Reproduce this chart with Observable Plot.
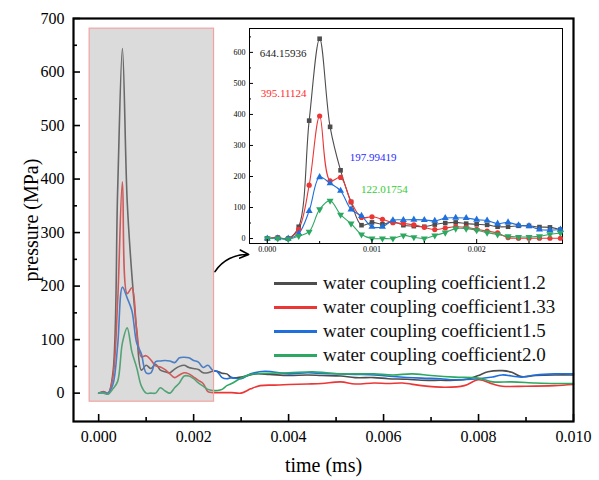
<!DOCTYPE html>
<html>
<head>
<meta charset="utf-8">
<script src="https://cdn.jsdelivr.net/npm/d3@7"></script>
<script src="https://cdn.jsdelivr.net/npm/@observablehq/plot@0.6"></script>
<style>
  body { margin: 0; background: #fff; }
  #wrap { position: relative; width: 599px; height: 480px; font-family: 'Liberation Serif', 'Times New Roman', Times, 'DejaVu Serif', serif; }
  #inset { position: absolute; left: 222px; top: 18px; }
  #legend { position: absolute; left: 274px; top: 271px; font-size: 19px; color: #111; }
  #legend .row { display: flex; align-items: center; height: 24px; white-space: nowrap; }
  #legend .sw { width: 43px; height: 3px; margin-right: 6px; }
  svg text { font-family: 'Liberation Serif', 'Times New Roman', Times, 'DejaVu Serif', serif; }
</style>
</head>
<body>
<div id="wrap"></div>
<script>
// ---- data ----
const seriesNames = ["water coupling coefficient1.2", "water coupling coefficient1.33", "water coupling coefficient1.5", "water coupling coefficient2.0"];
const seriesColors = ["#4d4d4d", "#ec3636", "#1f6fdc", "#2ca862"];
const labelColors = ["#222222", "#ff2a2a", "#2a2aff", "#33cc33"];
const peakLabels = ["644.15936", "395.11124", "197.99419", "122.01754"];
const markerSymbols = ["square", "circle", "triangle", "triangle"];
const markerRotate = [0, 0, 0, 180];

// sampled times (ms) of the zoomed-in part
const tInset = [0, 0.0001, 0.0002, 0.0003, 0.0004, 0.0005, 0.0006, 0.0007, 0.0008, 0.0009,
  0.0010, 0.0011, 0.0012, 0.0013, 0.0014, 0.0015, 0.0016, 0.0017, 0.0018, 0.0019,
  0.0020, 0.0021, 0.0022, 0.0023, 0.0024, 0.0025, 0.0026, 0.0027, 0.0028];
const blackInset = [0, 3, 0, 38, 380, 644, 360, 220, 118, 43, 52, 46, 54, 43, 40, 38, 45, 50, 52, 48, 46, 44, 38, 38, 41, 41, 37, 36, 29];
const redInset   = [0, 2, 0, 30, 172, 395, 186, 197, 118, 68, 70, 62, 51, 49, 44, 36, 29, 34, 38, 36, 30, 24, 18, 3, 1, 1, 1, 1, 1];
const blueInset  = [0, 1, 0, 16, 89, 198, 178, 154, 94, 73, 38, 38, 59, 60, 61, 60, 57, 66, 67, 66, 61, 58, 48, 52, 43, 40, 29, 27, 29];
const greenInset = [0, 0, -2, 8, 22, 94, 122, 77, 48, 13, 0, 0, 0, 10, 4, 0, 10, 19, 32, 32, 27, 19, 13, 7, 5, 5, 7, 14, 18];

// later part (main chart only)
const blackTailT = [0.0030, 0.0033, 0.0036, 0.0040, 0.0044, 0.0047, 0.0051, 0.0054, 0.0058, 0.0061, 0.0065, 0.0068, 0.0072, 0.0075, 0.0078, 0.0080, 0.0082, 0.0085, 0.0087, 0.0089, 0.0092, 0.0096, 0.0100];
const blackTail  = [30, 36, 35, 33, 34, 33, 32, 29, 29, 27, 26, 24, 24, 24, 27, 33, 40, 42, 39, 31, 33, 34, 34];
const redTailT = [0.0030, 0.0032, 0.0034, 0.0037, 0.0040, 0.0044, 0.0047, 0.0051, 0.0054, 0.0058, 0.0061, 0.0064, 0.0068, 0.0073, 0.0077, 0.0080, 0.0083, 0.0085, 0.0090, 0.0096, 0.0100];
const redTail  = [0, 8, 14, 15, 16, 17, 18, 21, 17, 19, 18, 19, 14, 11, 14, 25, 17, 13, 13, 14, 16];
const blueTailT = [0.0030, 0.0032, 0.0035, 0.0040, 0.0044, 0.0047, 0.0051, 0.0054, 0.0058, 0.0062, 0.0068, 0.0072, 0.0075, 0.0080, 0.0083, 0.0085, 0.0089, 0.0092, 0.0096, 0.0100];
const blueTail  = [27, 36, 41, 36, 38, 37, 36, 35, 34, 31, 28, 27, 25, 27, 30, 34, 30, 34, 36, 36];
const greenTailT = [0.0030, 0.0032, 0.0035, 0.0040, 0.0045, 0.0048, 0.0051, 0.0055, 0.0058, 0.0062, 0.0066, 0.0070, 0.0075, 0.0080, 0.0083, 0.0087, 0.0092, 0.0096, 0.0100];
const greenTail  = [28, 35, 37, 38, 40, 38, 36, 36, 36, 34, 36, 33, 30, 28, 21, 21, 19, 18, 18];

// axes
const xMajor = [0, 0.002, 0.004, 0.006, 0.008, 0.010];
const xMinor = [0.001, 0.003, 0.005, 0.007, 0.009];
const yMajor = [0, 100, 200, 300, 400, 500, 600, 700];
const yMinor = [50, 150, 250, 350, 450, 550, 650];
const insetXMajor = [0, 0.001, 0.002];
const insetXMinor = [0.0005, 0.0015, 0.0025];
const insetYMajor = [0, 100, 200, 300, 400, 500, 600];
const insetYMinor = [50, 150, 250, 350, 450, 550, 650];

// zoom box drawn on the main chart & the arrow pointing to the inset
const zoomBox = [{x1: -0.00019, x2: 0.00243, y1: -16, y2: 681}];
const arrowPath = [{x1: 0.00245, y1: 227, x2: 0.00316, y2: 259}];

// ---- build tables ----
const insetSets = [blackInset, redInset, blueInset, greenInset];
const tailTs = [blackTailT, redTailT, blueTailT, greenTailT];
const tails = [blackTail, redTail, blueTail, greenTail];

const insetRows = [];
const mainRows = [];
insetSets.forEach((vals, s) => {
  vals.forEach((v, i) => {
    insetRows.push({s, t: tInset[i], v});
    mainRows.push({s, t: tInset[i], v});
  });
  tails[s].forEach((v, i) => mainRows.push({s, t: tailTs[s][i], v}));
});
const peaks = insetSets.map((vals, s) => {
  const i = d3.maxIndex(vals);
  return {s, t: tInset[i], v: vals[i], label: peakLabels[s]};
});
const peakOffsets = [[-60, 15], [-59, -23], [30, -20], [31, -11]];

const font = "'Liberation Serif', 'Times New Roman', Times, 'DejaVu Serif', serif";

// ---- main chart ----
const main = Plot.plot({
  width: 599,
  height: 480,
  marginLeft: 73,
  marginRight: 26,
  marginTop: 18,
  marginBottom: 59,
  style: {fontFamily: font, fontSize: "16px", background: "transparent", overflow: "visible"},
  x: {domain: [-0.00053, 0.010]},
  y: {domain: [-53, 700]},
  marks: [
    ...[0, 1, 2, 3].map(s => Plot.line(mainRows.filter(d => d.s === s), {
      x: "t", y: "v", stroke: seriesColors[s], strokeWidth: 1.6, curve: "catmull-rom"
    })),
    Plot.rect(zoomBox, {x1: "x1", x2: "x2", y1: "y1", y2: "y2", fill: "#9a9a9a", fillOpacity: 0.36, stroke: "#f4a3a3", strokeWidth: 1.2}),
    Plot.arrow(arrowPath, {x1: "x1", y1: "y1", x2: "x2", y2: "y2", bend: 30, stroke: "#000", strokeWidth: 1.6, headLength: 9, headAngle: 50}),
    Plot.axisX(xMajor, {tickSize: -7, tickPadding: 16, tickFormat: d3.format(".3f"), fontSize: 16, strokeWidth: 1.6,
      label: "time (ms)", labelAnchor: "center", labelArrow: "none", labelOffset: 50}),
    Plot.axisX(xMinor, {tickSize: -4, text: null, strokeWidth: 1.6, label: null}),
    Plot.axisY(yMajor, {tickSize: -7, tickPadding: 16, tickFormat: d => d, fontSize: 16, strokeWidth: 1.6,
      label: "pressure (MPa)", labelAnchor: "center", labelArrow: "none", labelOffset: 50}),
    Plot.axisY(yMinor, {tickSize: -4, text: null, strokeWidth: 1.6, label: null}),
    Plot.frame({stroke: "#000", strokeWidth: 2.2})
  ]
});
main.querySelectorAll("[aria-label='x-axis label'] text, [aria-label='y-axis label'] text").forEach(t => t.setAttribute("font-size", "20"));

// ---- inset ----
const inset = Plot.plot({
  width: 345,
  height: 242,
  marginLeft: 27,
  marginRight: 5,
  marginTop: 10,
  marginBottom: 17,
  style: {fontFamily: font, fontSize: "9px", background: "transparent", overflow: "visible"},
  x: {domain: [-0.00017, 0.00282]},
  y: {domain: [-16, 677]},
  marks: [
    Plot.frame({stroke: "#000", strokeWidth: 1}),
    ...[0, 1, 2, 3].map(s => Plot.line(insetRows.filter(d => d.s === s), {
      x: "t", y: "v", stroke: seriesColors[s], strokeWidth: 1.1, curve: "catmull-rom", clip: true
    })),
    ...[0, 1, 2, 3].map(s => Plot.dot(insetRows.filter(d => d.s === s), {
      x: "t", y: "v", fill: seriesColors[s], stroke: "none", symbol: markerSymbols[s], rotate: markerRotate[s], r: 2.6
    })),
    ...peaks.map(p => Plot.text([p], {
      x: "t", y: "v", text: "label", fill: labelColors[p.s], textAnchor: "start",
      dx: peakOffsets[p.s][0], dy: peakOffsets[p.s][1], fontSize: 11
    })),
    Plot.axisX(insetXMajor, {tickSize: -4, tickPadding: 7, tickFormat: d3.format(".3f"), fontSize: 8, label: null}),
    Plot.axisX(insetXMinor, {tickSize: -2, text: null, label: null}),
    Plot.axisY(insetYMajor, {tickSize: -4, tickPadding: 8, tickFormat: d => d, fontSize: 8, label: null}),
    Plot.axisY(insetYMinor, {tickSize: -2, text: null, label: null})
  ]
});
inset.id = "inset";

// ---- legend ----
const legend = document.createElement("div");
legend.id = "legend";
seriesNames.forEach((name, i) => {
  const row = document.createElement("div");
  row.className = "row";
  const sw = document.createElement("div");
  sw.className = "sw";
  sw.style.background = seriesColors[i];
  const lab = document.createElement("span");
  lab.textContent = name;
  row.append(sw, lab);
  legend.append(row);
});

const wrap = document.getElementById("wrap");
wrap.append(main, inset, legend);
</script>
</body>
</html>
